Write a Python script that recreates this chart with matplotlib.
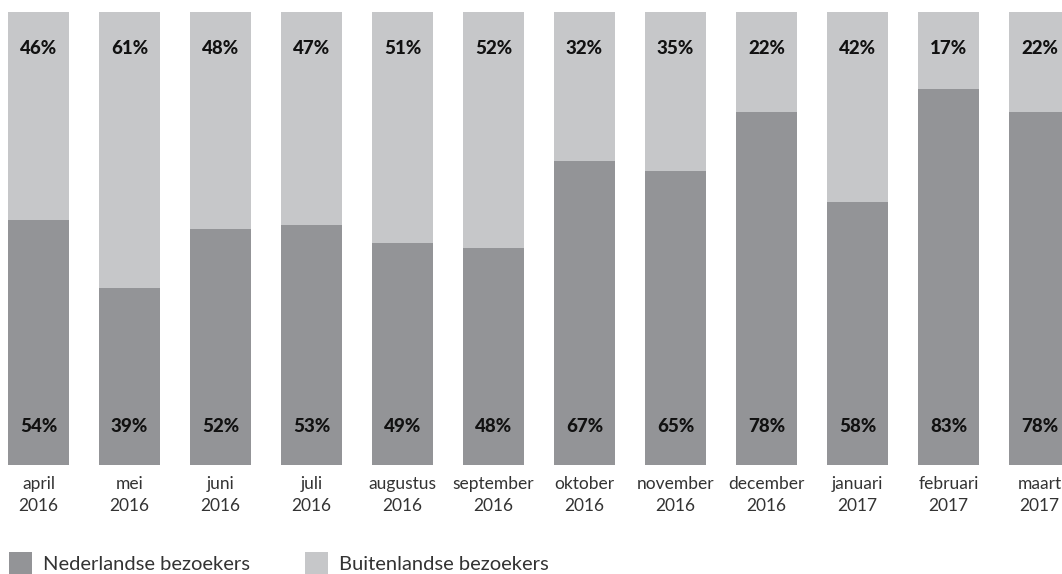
import matplotlib
matplotlib.use("Agg")
import matplotlib.pyplot as plt
from matplotlib.patches import Rectangle

months = ["april", "mei", "juni", "juli", "augustus", "september", "oktober",
          "november", "december", "januari", "februari", "maart"]
years = ["2016"] * 9 + ["2017"] * 3
nederlandse = [54, 39, 52, 53, 49, 48, 67, 65, 78, 58, 83, 78]
buitenlandse = [46, 61, 48, 47, 51, 52, 32, 35, 22, 42, 17, 22]
series_names = ["Nederlandse bezoekers", "Buitenlandse bezoekers"]

dark = "#939497"
light = "#c6c7c9"
plt.rcParams['font.family'] = ['Lato', 'DejaVu Sans']

W, H = 1062, 574
fig = plt.figure(figsize=(W / 100, H / 100), dpi=100)
ax_bottom = 1 - 465 / H
ax_top = 1 - 12 / H
ax = fig.add_axes([0, ax_bottom, 1, ax_top - ax_bottom])
x = list(range(len(months)))
ax.bar(x, nederlandse, width=61 / 91, color=dark, linewidth=0)
ax.bar(x, [100 - n for n in nederlandse], bottom=nederlandse, width=61 / 91, color=light, linewidth=0)
ax.set_xlim(-38.5 / 91, (W - 38.5) / 91)
ax.set_ylim(0, 100)
ax.axis("off")

px = 100 / 453  # data units per pixel vertically
for i in x:
    ax.text(i, 100 - 36 * px, f"{buitenlandse[i]}%", ha="center", va="center",
            fontsize=13.5, fontweight="black", color="#111111")
    ax.text(i, 39 * px, f"{nederlandse[i]}%", ha="center", va="center",
            fontsize=13.5, fontweight="black", color="#111111")
    ax.text(i, -19 * px, months[i], ha="center", va="center", fontsize=12.5,
            color="#333333", clip_on=False)
    ax.text(i, -41 * px, years[i], ha="center", va="center", fontsize=12.5,
            color="#333333", clip_on=False)

# legend
for (lx, name, col) in [(9, series_names[0], dark), (305, series_names[1], light)]:
    fig.patches.append(Rectangle((lx / W, 0), 23 / W, 22 / H, transform=fig.transFigure,
                                 facecolor=col, edgecolor="none"))
    fig.text((lx + 34) / W, 1 - 565 / H, name, ha="left", va="center",
             fontsize=14.5, color="#333333")

fig.savefig("out.png", dpi=100)
